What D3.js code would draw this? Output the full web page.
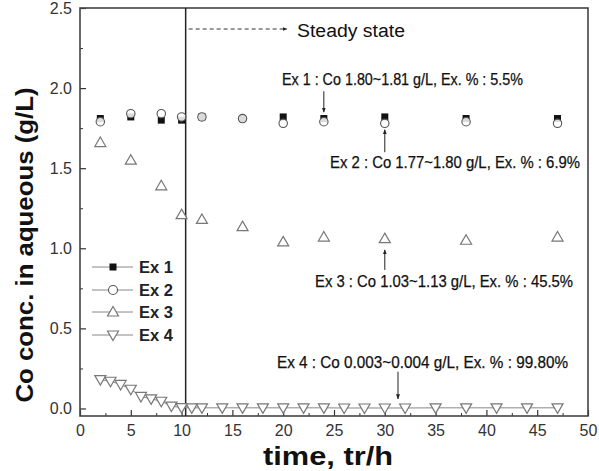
<!DOCTYPE html>
<html><head><meta charset="utf-8">
<script src="https://cdn.jsdelivr.net/npm/d3@7"></script>
<style>body{margin:0;background:#fff}svg{display:block}text{font-family:"Liberation Sans",Arial,sans-serif}</style>
</head><body><svg id="c" width="599" height="471"></svg>
<script>
const ex12X = [2, 5, 8, 10, 12, 16, 20, 24, 30, 38, 47];
const ex1Y  = [1.81, 1.82, 1.80, 1.80, 1.82, 1.81, 1.82, 1.81, 1.82, 1.81, 1.81];
const ex2Y  = [1.79, 1.84, 1.84, 1.82, 1.82, 1.81, 1.78, 1.79, 1.78, 1.79, 1.78];
const ex3X  = [2, 5, 8, 10, 12, 16, 20, 24, 30, 38, 47];
const ex3Y  = [1.66, 1.55, 1.39, 1.21, 1.18, 1.135, 1.04, 1.07, 1.06, 1.05, 1.07];
const ex4X  = [2, 3, 4, 5, 6, 7, 8, 9, 10, 11, 12, 14, 16, 18, 20, 22, 24, 26, 28, 30, 32, 35, 38, 41, 44, 47];
const ex4Y  = [0.18, 0.17, 0.15, 0.12, 0.075, 0.06, 0.045, 0.015, 0.005, 0.004, 0.004, 0.004, 0.004, 0.004, 0.004, 0.004, 0.004, 0.003, 0.003, 0.003, 0.003, 0.004, 0.004, 0.004, 0.004, 0.004];
const xTicks = [0, 5, 10, 15, 20, 25, 30, 35, 40, 45, 50];
const yTicks = [0.0, 0.5, 1.0, 1.5, 2.0, 2.5];
const legendLabels = ["Ex 1", "Ex 2", "Ex 3", "Ex 4"];
const steadyX = 10.4;
const notes = [
  {text: "Ex 1 : Co 1.80~1.81 g/L, Ex. % : 5.5%", x0: 282, w: 241, by: 85, ax: 24, a1: 1.98, a2: 1.85},
  {text: "Ex 2 : Co 1.77~1.80 g/L, Ex. % : 6.9%", x0: 330, w: 250, by: 168, ax: 30, a1: 1.60, a2: 1.74},
  {text: "Ex 3 : Co 1.03~1.13 g/L, Ex. % : 45.5%", x0: 315, w: 258, by: 287, ax: 30, a1: 0.865, a2: 0.99},
  {text: "Ex 4 : Co 0.003~0.004 g/L, Ex. % : 99.80%", x0: 277, w: 291, by: 368, ax: 31.3, a1: 0.23, a2: 0.06}
];

const svg = d3.select("#c");
const L = 80, R = 588, T = 8, B = 416;
const x = d3.scaleLinear().domain([0, 50]).range([L, R]);
const y = d3.scaleLinear().domain([-0.047, 2.5]).range([B, T]);

svg.append("defs").append("marker").attr("id", "ah").attr("viewBox", "0 0 10 10")
  .attr("refX", 9).attr("refY", 5).attr("markerWidth", 5).attr("markerHeight", 5).attr("orient", "auto")
  .append("path").attr("d", "M0,1L10,5L0,9z").attr("fill", "#222");

// axes
const tickFont = g => g.selectAll("text").attr("font-size", 16).attr("fill", "#333");
const xa = svg.append("g").attr("transform", `translate(0,${B})`)
  .call(d3.axisBottom(x).tickValues(xTicks).tickSize(-6).tickPadding(9).tickFormat(d3.format("d")));
xa.call(tickFont); xa.select(".domain").remove();
xa.selectAll("line").attr("stroke", "#333").attr("stroke-width", 1.2);
const xm = svg.append("g").attr("transform", `translate(0,${B})`)
  .call(d3.axisBottom(x).tickValues(d3.range(2.5, 50, 5)).tickSize(-3).tickFormat(""));
xm.select(".domain").remove(); xm.selectAll("line").attr("stroke", "#333");

const ya = svg.append("g").attr("transform", `translate(${L},0)`)
  .call(d3.axisLeft(y).tickValues(yTicks).tickSize(-6).tickPadding(8).tickFormat(d3.format(".1f")));
ya.call(tickFont); ya.select(".domain").remove();
ya.selectAll("line").attr("stroke", "#333").attr("stroke-width", 1.2);
const ym = svg.append("g").attr("transform", `translate(${L},0)`)
  .call(d3.axisLeft(y).tickValues(d3.range(0.25, 2.5, 0.5)).tickSize(-3).tickFormat(""));
ym.select(".domain").remove(); ym.selectAll("line").attr("stroke", "#333");

svg.append("rect").attr("x", L).attr("y", T).attr("width", R - L).attr("height", B - T)
  .attr("fill", "none").attr("stroke", "#444").attr("stroke-width", 1.6);

// steady state line
svg.append("line").attr("x1", x(steadyX)).attr("x2", x(steadyX)).attr("y1", T).attr("y2", B)
  .attr("stroke", "#222").attr("stroke-width", 1.5);
svg.append("line").attr("x1", x(steadyX) + 3).attr("x2", 287).attr("y1", 29).attr("y2", 29)
  .attr("stroke", "#333").attr("stroke-width", 1).attr("stroke-dasharray", "4,3").attr("marker-end", "url(#ah)");
svg.append("text").attr("x", 297).attr("y", 37).attr("font-size", 18).attr("fill", "#111")
  .attr("textLength", 108).attr("lengthAdjust", "spacingAndGlyphs").text("Steady state");

// markers
const triUp = "M0,-5.5L5.5,4L-5.5,4Z", triDn = "M0,5.5L5.5,-4L-5.5,-4Z";
const pts = (xs, ys) => xs.map((v, i) => ({x: v, y: ys[i]}));

svg.append("path").datum(pts(ex4X, ex4Y))
  .attr("d", d3.line().x(d => x(d.x)).y(d => y(d.y))).attr("fill", "none").attr("stroke", "#888").attr("stroke-width", 1);

svg.append("g").selectAll("rect").data(pts(ex12X, ex1Y)).join("rect")
  .attr("x", d => x(d.x) - 3.5).attr("y", d => y(d.y) - 3.5).attr("width", 7).attr("height", 7).attr("fill", "#111");
svg.append("g").selectAll("circle").data(pts(ex12X, ex2Y)).join("circle")
  .attr("cx", d => x(d.x)).attr("cy", d => y(d.y)).attr("r", 4.2).attr("fill", "#fff").attr("fill-opacity", 0.85)
  .attr("stroke", "#555").attr("stroke-width", 1.1);
svg.append("g").selectAll("path").data(pts(ex3X, ex3Y)).join("path")
  .attr("transform", d => `translate(${x(d.x)},${y(d.y)})`).attr("d", triUp)
  .attr("fill", "#fff").attr("stroke", "#777").attr("stroke-width", 1.2);
svg.append("g").selectAll("path").data(pts(ex4X, ex4Y)).join("path")
  .attr("transform", d => `translate(${x(d.x)},${y(d.y)})`).attr("d", triDn)
  .attr("fill", "#fff").attr("stroke", "#777").attr("stroke-width", 1.2);

// annotations
notes.forEach(n => {
  svg.append("text").attr("x", n.x0).attr("y", n.by).attr("font-size", 16).attr("fill", "#111")
    .attr("stroke", "#111").attr("stroke-width", 0.25)
    .attr("textLength", n.w).attr("lengthAdjust", "spacingAndGlyphs").text(n.text);
  svg.append("line").attr("x1", x(n.ax)).attr("x2", x(n.ax)).attr("y1", y(n.a1)).attr("y2", y(n.a2))
    .attr("stroke", "#222").attr("stroke-width", 1).attr("marker-end", "url(#ah)");
});

// legend
const legY = [267, 290, 312, 335];
const lg = svg.append("g");
legendLabels.forEach((lab, i) => {
  lg.append("line").attr("x1", 92).attr("x2", 133).attr("y1", legY[i]).attr("y2", legY[i]).attr("stroke", "#888").attr("stroke-width", 1);
  if (i === 0) lg.append("rect").attr("x", 109.5).attr("y", legY[i] - 3.5).attr("width", 7).attr("height", 7).attr("fill", "#111");
  if (i === 1) lg.append("circle").attr("cx", 113).attr("cy", legY[i]).attr("r", 4.5).attr("fill", "#fff").attr("stroke", "#555").attr("stroke-width", 1.1);
  if (i === 2) lg.append("path").attr("transform", `translate(113,${legY[i]})`).attr("d", triUp).attr("fill", "#fff").attr("stroke", "#777").attr("stroke-width", 1.2);
  if (i === 3) lg.append("path").attr("transform", `translate(113,${legY[i]})`).attr("d", triDn).attr("fill", "#fff").attr("stroke", "#777").attr("stroke-width", 1.2);
  lg.append("text").attr("x", 139).attr("y", legY[i] + 6).attr("font-size", 17).attr("font-weight", "bold").attr("fill", "#222")
    .attr("textLength", 34).attr("lengthAdjust", "spacingAndGlyphs").text(lab);
});

// axis titles
svg.append("text").attr("x", 328).attr("y", 465).attr("text-anchor", "middle").attr("font-size", 26).attr("font-weight", "bold")
  .attr("fill", "#111").attr("textLength", 130).attr("lengthAdjust", "spacingAndGlyphs").text("time, tr/h");
svg.append("text").attr("transform", "translate(33,245) rotate(-90)").attr("text-anchor", "middle").attr("font-size", 24)
  .attr("font-weight", "bold").attr("fill", "#111").attr("textLength", 315).attr("lengthAdjust", "spacingAndGlyphs")
  .text("Co conc. in aqueous (g/L)");
</script></body></html>
